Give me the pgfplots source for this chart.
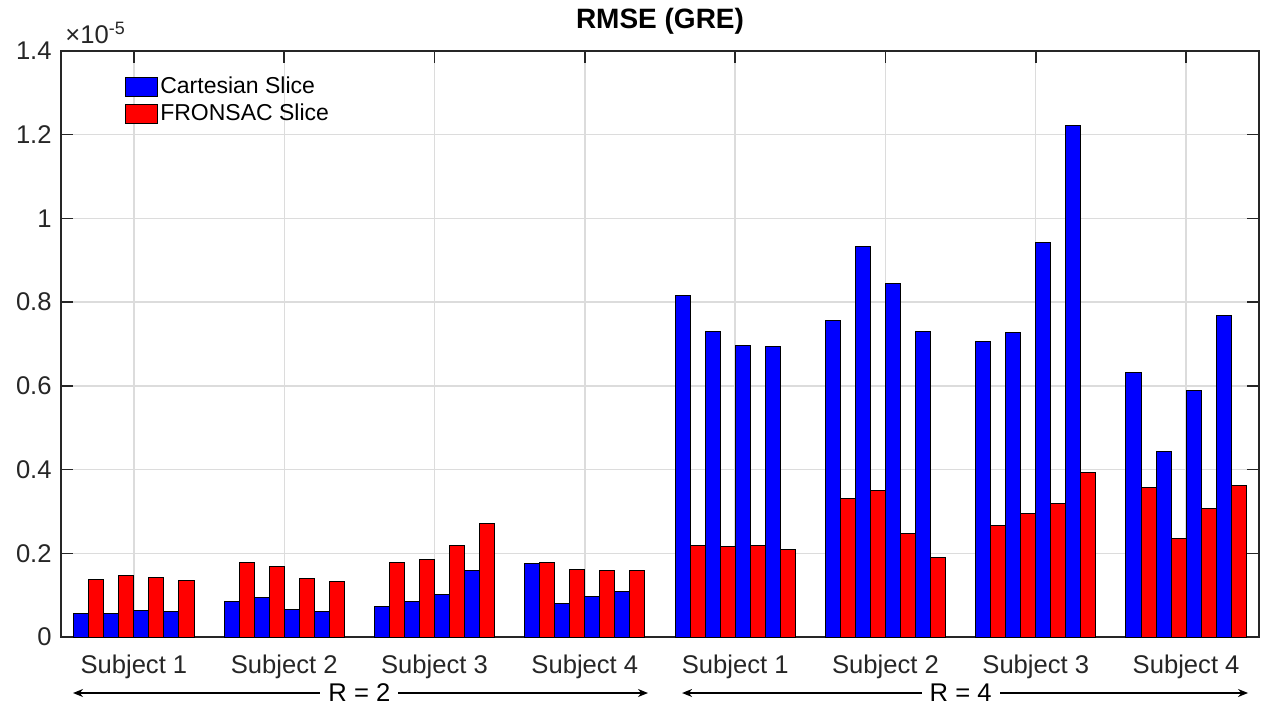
\documentclass[border=0pt]{standalone}
\usepackage{pgfplots}
\pgfplotsset{compat=1.18}
\usepackage{pgfplotstable}
\usepackage{fontspec}
\setmainfont{Liberation Sans}
\usetikzlibrary{arrows.meta}

\definecolor{axgray}{RGB}{38,38,38}
\definecolor{gridgray}{RGB}{220,220,220}

% RMSE values in units of 1e-5; c = Cartesian slice, f = FRONSAC slice
\pgfplotstableread{
x c1 f1 c2 f2 c3 f3 c4 f4
1 0.056 0.138 0.056 0.147 0.064 0.142 0.060 0.135
2 0.086 0.178 0.095 0.168 0.066 0.139 0.062 0.132
3 0.074 0.178 0.085 0.186 0.101 0.219 0.158 0.271
4 0.176 0.179 0.080 0.162 0.097 0.159 0.109 0.158
5 0.815 0.218 0.731 0.216 0.697 0.219 0.694 0.208
6 0.757 0.332 0.933 0.351 0.845 0.248 0.731 0.190
7 0.707 0.266 0.728 0.296 0.943 0.318 1.221 0.393
8 0.633 0.358 0.443 0.236 0.590 0.308 0.767 0.363
}\rmse

\newcommand{\tickfont}{\fontsize{12.8pt}{15pt}\selectfont}

\begin{document}
\begin{tikzpicture}
\begin{axis}[
    scale only axis,
    width=599pt, height=293pt,
    xmin=0.515, xmax=8.485,
    ymin=0, ymax=1.4,
    xtick={1,...,8},
    xticklabels={Subject 1,Subject 2,Subject 3,Subject 4,Subject 1,Subject 2,Subject 3,Subject 4},
    ytick={0,0.2,0.4,0.6,0.8,1,1.2,1.4},
    yticklabels={0,0.2,0.4,0.6,0.8,1,1.2,1.4},
    tick align=inside,
    major tick length=6pt,
    every tick/.style={axgray, line width=0.75pt},
    axis line style={axgray, line width=0.75pt},
    grid=major,
    major grid style={gridgray, line width=0.7pt},
    tick label style={font=\tickfont, text=axgray},
    xticklabel style={anchor=base, yshift=-18pt},
    yticklabel style={anchor=east, inner sep=0pt, xshift=-4.5pt},
    title={\bfseries RMSE (GRE)},
    title style={font=\fontsize{14pt}{16pt}\selectfont, at={(0.5,1)}, anchor=base, yshift=5.5pt},
    legend style={at={(rel axis cs:0.048,0.967)}, anchor=north west, draw=none, fill=none,
        font=\fontsize{11.5pt}{13pt}\selectfont, row sep=1.2pt,
        nodes={inner sep=1.2pt}},
    legend cell align=left,
    clip=false,
]
\addplot[ybar, bar width=0.1, bar shift=-0.35, fill=blue, draw=black, line width=0.5pt,
    legend image code/.code={\draw[fill=blue,draw=black,line width=0.5pt] (0pt,-4.75pt) rectangle (16pt,4.75pt);}]
    table[x=x, y=c1] {\rmse};
\addlegendentry{Cartesian Slice}
\addplot[ybar, bar width=0.1, bar shift=-0.25, fill=red, draw=black, line width=0.5pt,
    legend image code/.code={\draw[fill=red,draw=black,line width=0.5pt] (0pt,-4.75pt) rectangle (16pt,4.75pt);}]
    table[x=x, y=f1] {\rmse};
\addlegendentry{FRONSAC Slice}
\addplot[ybar, bar width=0.1, bar shift=-0.15, fill=blue, draw=black, line width=0.5pt, forget plot] table[x=x, y=c2] {\rmse};
\addplot[ybar, bar width=0.1, bar shift=-0.05, fill=red, draw=black, line width=0.5pt, forget plot] table[x=x, y=f2] {\rmse};
\addplot[ybar, bar width=0.1, bar shift=0.05, fill=blue, draw=black, line width=0.5pt, forget plot] table[x=x, y=c3] {\rmse};
\addplot[ybar, bar width=0.1, bar shift=0.15, fill=red, draw=black, line width=0.5pt, forget plot] table[x=x, y=f3] {\rmse};
\addplot[ybar, bar width=0.1, bar shift=0.25, fill=blue, draw=black, line width=0.5pt, forget plot] table[x=x, y=c4] {\rmse};
\addplot[ybar, bar width=0.1, bar shift=0.35, fill=red, draw=black, line width=0.5pt, forget plot] table[x=x, y=f4] {\rmse};

% exponent label
\node[anchor=base west, inner sep=0pt, font=\tickfont, text=axgray, xshift=2pt, yshift=4pt]
    at (rel axis cs:0,1) {×10\textsuperscript{-5}};

% acceleration factor arrows
\draw[line width=0.7pt, {Stealth[length=5pt,width=4pt]}-{Stealth[length=5pt,width=4pt]}]
    ([yshift=-28pt]axis cs:0.595,0) -- ([yshift=-28pt]axis cs:4.42,0);
\node[fill=white, inner xsep=4pt, inner ysep=1pt, font=\tickfont] at ([yshift=-28pt]axis cs:2.5,0) {R = 2};
\draw[line width=0.7pt, {Stealth[length=5pt,width=4pt]}-{Stealth[length=5pt,width=4pt]}]
    ([yshift=-28pt]axis cs:4.647,0) -- ([yshift=-28pt]axis cs:8.412,0);
\node[fill=white, inner xsep=4pt, inner ysep=1pt, font=\tickfont] at ([yshift=-28pt]axis cs:6.5,0) {R = 4};
\end{axis}
\pgfresetboundingbox
\useasboundingbox (-30.5pt,-41.5pt) rectangle (609.5pt,318.5pt);
\end{tikzpicture}
\end{document}
